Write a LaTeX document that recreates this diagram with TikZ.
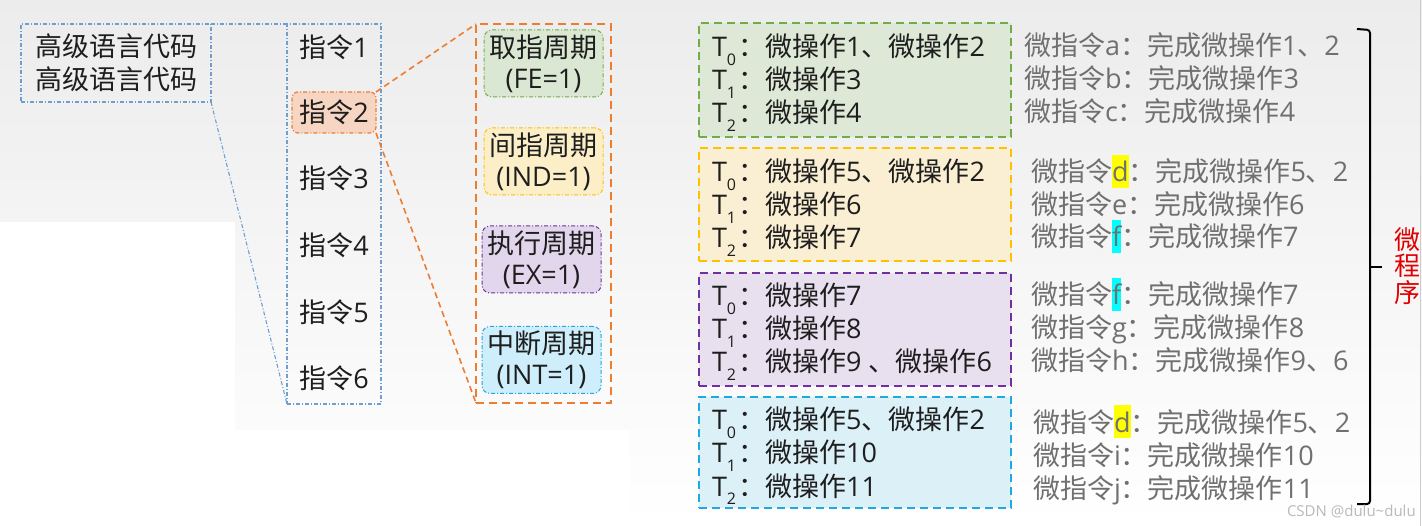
\documentclass[tikz,border=0pt]{standalone}
\usepackage{fontspec}
\setmainfont{Open Sans}
\newfontfamily\cjk{Noto Sans CJK SC}
\newcommand\zh[1]{{\cjk #1}}
\newcommand\tsub[1]{\raisebox{-0.3em}{\fontsize{16}{16}\selectfont #1}\kern2pt}
\newcommand\hlt[2]{{\setlength\fboxsep{0pt}\colorbox{#1}{\rule[-0.22em]{0pt}{1.22em}#2}}}
\definecolor{bgtop}{HTML}{ECECEC}
\definecolor{txtdark}{HTML}{1E1E1E}
\definecolor{txtgray}{HTML}{707070}
\definecolor{lblue}{HTML}{6E9FD0}
\definecolor{orng}{HTML}{ED7D31}
\definecolor{peach}{HTML}{F6D6C2}
\definecolor{grnB}{HTML}{70AD47}
\definecolor{grnF}{HTML}{DAE7D2}
\definecolor{grnF2}{HTML}{DDE8D6}
\definecolor{ylwB}{HTML}{FFC000}
\definecolor{ylwF}{HTML}{FCEFC8}
\definecolor{ylwF2}{HTML}{FAEFD3}
\definecolor{prpB}{HTML}{7030A0}
\definecolor{prpF}{HTML}{E2D6EC}
\definecolor{prpF2}{HTML}{E8E0EE}
\definecolor{cynB}{HTML}{1FA9E1}
\definecolor{cynF}{HTML}{CDEEFA}
\definecolor{cynF2}{HTML}{DCF0F8}
\definecolor{redT}{HTML}{E00000}
\definecolor{hlY}{HTML}{FFFF00}
\definecolor{hlC}{HTML}{00FFFF}
\tikzset{
  every node/.style={inner sep=0pt, outer sep=0pt},
  f27/.style={font=\fontsize{27}{33}\selectfont},
  dashdotline/.style={dash pattern=on 4pt off 2pt on 1pt off 2pt},
  bluebox/.style={draw=lblue, line width=1.1pt, dashdotline},
  bluelink/.style={draw=lblue, line width=1.1pt, dashdotline},
  orangelink/.style={draw=orng, line width=1.6pt, dash pattern=on 6pt off 4pt},
  outerbox/.style={draw=orng, line width=2.6pt, dash pattern=on 8pt off 5pt},
  instr/.style={f27, text=txtdark, minimum width=84pt, minimum height=41pt},
  selinstr/.style={instr, draw=orng, fill=peach, rounded corners=6pt, line width=1.2pt, dashdotline},
  cycbox/.style={font=\fontsize{27}{31}\selectfont, align=center, minimum width=119pt, minimum height=67pt, rounded corners=8pt, line width=1pt, dashdotline, text=txtdark},
  opbox/.style={line width=2.6pt, dash pattern=on 8pt off 5pt, minimum width=312pt},
  optext/.style={f27, text=txtdark, anchor=base west},
  mitext/.style={f27, text=txtgray, anchor=base west},
}
\begin{document}
\begin{tikzpicture}[x=1pt,y=-1pt]
\useasboundingbox (0,0) rectangle (1422,526);
\shade[top color=bgtop, bottom color=white] (0,0) rectangle (1422,526);
\fill[white] (0,222) rectangle (235,526);
\fill[white] (0,430) rectangle (630,526);
\draw[gray!40, line width=1pt] (1420.5,0) -- (1420.5,526);

% high level code
\node[bluebox, f27, text=txtdark, align=left, minimum width=190pt, minimum height=78pt] (hl) at (116,63) {\zh{高级语言代码}\\\zh{高级语言代码}};

% instructions
\node[bluebox, minimum width=94pt, minimum height=380pt] (ib) at (334,214) {};
\node[instr] (i1) at (334,47) {\zh{指令}1};
\node[selinstr] (i2) at (334,112.5) {\zh{指令}2};
\node[instr] (i3) at (334,178) {\zh{指令}3};
\node[instr] (i4) at (334,245) {\zh{指令}4};
\node[instr] (i5) at (334,312) {\zh{指令}5};
\node[instr] (i6) at (334,378) {\zh{指令}6};
\draw[bluelink] (hl.north east) -- (ib.north west);
\draw[bluelink] (hl.south east) -- (ib.south west);

% cycles
\node[outerbox, minimum width=135pt, minimum height=379pt] (cb) at (543.5,213.5) {};
\draw[orangelink] (i2.north east) -- (cb.north west);
\draw[orangelink] (i2.south east) -- (cb.south west);
\node[cycbox, draw=grnB, fill=grnF] (fe) at (543.5,63.5) {\zh{取指周期}\\(FE=1)};
\node[cycbox, draw=ylwB, fill=ylwF] (ind) at (543.5,161.5) {\zh{间指周期}\\(IND=1)};
\node[cycbox, draw=prpB, fill=prpF] (ex) at (541.5,259.5) {\zh{执行周期}\\(EX=1)};
\node[cycbox, draw=cynB, fill=cynF] (int) at (541.5,360) {\zh{中断周期}\\(INT=1)};

% micro-operation boxes
\node[opbox, draw=grnB, fill=grnF2, minimum height=114pt] (bg) at (855,80) {};
\node[opbox, draw=ylwB, fill=ylwF2, minimum height=113pt] (by) at (855,204.5) {};
\node[opbox, draw=prpB, fill=prpF2, minimum height=113pt] (bp) at (855,329.5) {};
\node[opbox, draw=cynB, fill=cynF2, minimum height=111pt] (bc) at (855,452.5) {};

\node[optext] (g0) at (712,57) {T\tsub{0}\zh{：微操作}1\zh{、微操作}2};
\node[optext] (g1) at (712,90) {T\tsub{1}\zh{：微操作}3};
\node[optext] (g2) at (712,123) {T\tsub{2}\zh{：微操作}4};
\node[optext] (y0) at (712,182) {T\tsub{0}\zh{：微操作}5\zh{、微操作}2};
\node[optext] (y1) at (712,215) {T\tsub{1}\zh{：微操作}6};
\node[optext] (y2) at (712,248) {T\tsub{2}\zh{：微操作}7};
\node[optext] (p0) at (712,306) {T\tsub{0}\zh{：微操作}7};
\node[optext] (p1) at (712,339) {T\tsub{1}\zh{：微操作}8};
\node[optext] (p2) at (712,372) {T\tsub{2}\zh{：微操作}9 \zh{、微操作}6};
\node[optext] (c0) at (712,430) {T\tsub{0}\zh{：微操作}5\zh{、微操作}2};
\node[optext] (c1) at (712,463) {T\tsub{1}\zh{：微操作}10};
\node[optext] (c2) at (712,496) {T\tsub{2}\zh{：微操作}11};

% micro-instructions
\node[mitext] (ma) at (1024,56) {\zh{微指令}a\zh{：完成微操作}1\zh{、}2};
\node[mitext] (mb) at (1024,89) {\zh{微指令}b\zh{：完成微操作}3};
\node[mitext] (mc) at (1024,122) {\zh{微指令}c\zh{：完成微操作}4};
\node[mitext] (md) at (1031,182) {\zh{微指令}\hlt{hlY}{d}\zh{：完成微操作}5\zh{、}2};
\node[mitext] (me) at (1031,215) {\zh{微指令}e\zh{：完成微操作}6};
\node[mitext] (mf) at (1031,247) {\zh{微指令}\hlt{hlC}{f}\zh{：完成微操作}7};
\node[mitext] (mf2) at (1031,305) {\zh{微指令}\hlt{hlC}{f}\zh{：完成微操作}7};
\node[mitext] (mg) at (1031,338) {\zh{微指令}g\zh{：完成微操作}8};
\node[mitext] (mh) at (1031,371) {\zh{微指令}h\zh{：完成微操作}9\zh{、}6};
\node[mitext] (md2) at (1033,432) {\zh{微指令}\hlt{hlY}{d}\zh{：完成微操作}5\zh{、}2};
\node[mitext] (mi) at (1033,465) {\zh{微指令}i\zh{：完成微操作}10};
\node[mitext] (mj) at (1033,498) {\zh{微指令}j\zh{：完成微操作}11};

% bracket
\coordinate (bt) at (1357,29);
\coordinate (bb) at (1357,504);
\coordinate (bm) at (1370,267);
\coordinate (bmt) at (1382,267);
\draw[line width=2pt, rounded corners=3pt] (bt) -- (1370,30) -- (1370,504) -- (bb);
\draw[line width=2pt] (bm) -- (bmt);
\node[font=\fontsize{26}{26.5}\selectfont, text=redT, align=center] (wcx) at (1407,266) {\zh{微}\\\zh{程}\\\zh{序}};

\node[anchor=base west, font=\fontsize{15}{15}\selectfont, text=gray!55] (wm) at (1287,516) {CSDN @dulu\textasciitilde dulu};
\end{tikzpicture}
\end{document}
